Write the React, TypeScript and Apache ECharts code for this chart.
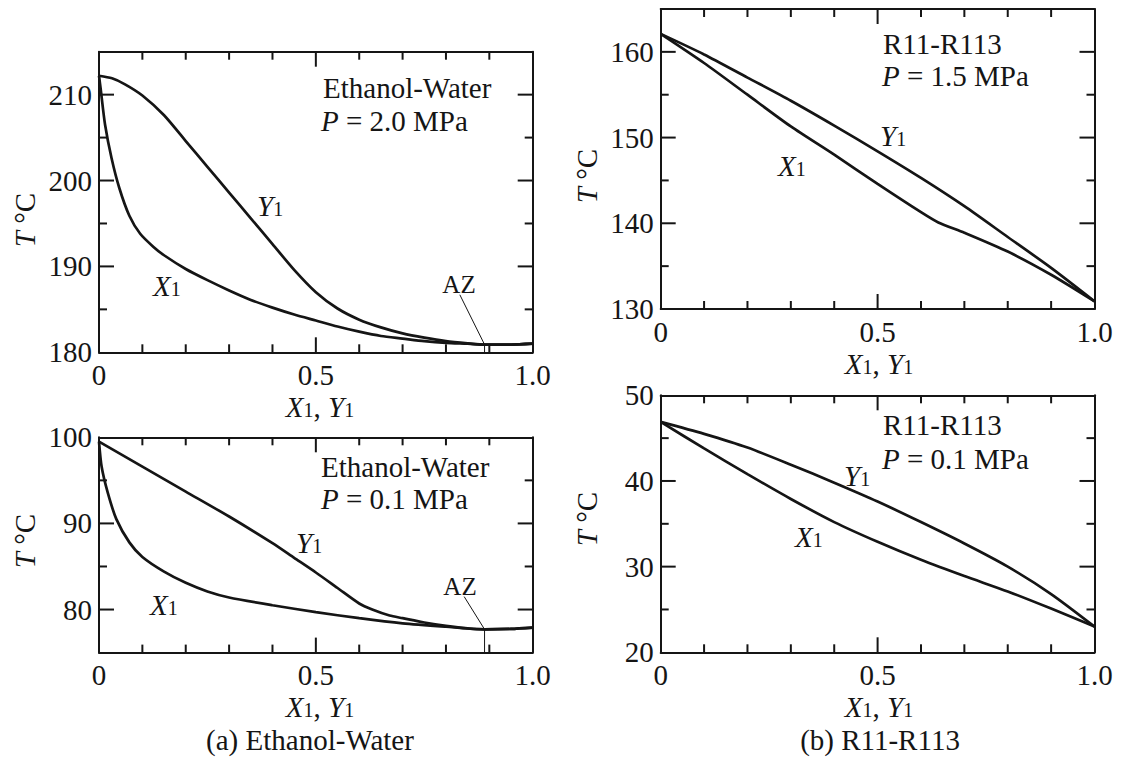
import React, { useEffect, useRef } from "react";
import * as echarts from "echarts";

const FONT = "Liberation Serif";
const INK = "#151515";

// composition axis ticks (shared)
const xMajorTicks = [0.5];
const xMinorTicks = [0.1, 0.2, 0.3, 0.4, 0.6, 0.7, 0.8, 0.9];

// (a) Ethanol-Water, P = 2.0 MPa
const ewHighRange = [180, 215];
const ewHighMajor = [190, 200, 210];
const ewHighMinor = [185, 195, 205];
const ewHighX1 = [
  [0, 212.2], [0.004, 210.6], [0.014, 206.5], [0.029, 202.6], [0.047, 199.1], [0.07, 195.9],
  [0.095, 193.8], [0.125, 192.3], [0.15, 191.3], [0.2, 189.7], [0.25, 188.4], [0.3, 187.2],
  [0.35, 186.1], [0.4, 185.2], [0.45, 184.4], [0.5, 183.7], [0.55, 183.0], [0.6, 182.4],
  [0.65, 181.9], [0.7, 181.6], [0.75, 181.3], [0.8, 181.1], [0.85, 181.0], [0.89, 180.9],
  [0.95, 180.9], [1, 181.0],
];
const ewHighY1 = [
  [0, 212.2], [0.03, 211.9], [0.06, 211.2], [0.1, 209.9], [0.15, 207.6], [0.2, 204.6],
  [0.25, 201.6], [0.3, 198.6], [0.35, 195.6], [0.4, 192.6], [0.45, 189.6], [0.5, 187.0],
  [0.55, 185.1], [0.6, 183.8], [0.65, 182.9], [0.7, 182.2], [0.75, 181.7], [0.8, 181.3],
  [0.85, 181.05], [0.89, 180.9], [0.95, 180.9], [1, 181.0],
];
const ewHighAZ = [[0.832, 186.7], [0.889, 180.9], [0.889, 180]];

// (a) Ethanol-Water, P = 0.1 MPa
const ewLowRange = [75, 100];
const ewLowMajor = [80, 90];
const ewLowMinor = [85, 95];
const ewLowX1 = [
  [0, 99.5], [0.006, 96.6], [0.02, 93.6], [0.04, 90.5], [0.07, 87.8], [0.1, 86.1],
  [0.15, 84.4], [0.2, 83.1], [0.25, 82.1], [0.3, 81.4], [0.4, 80.5], [0.5, 79.7],
  [0.6, 79.0], [0.7, 78.4], [0.8, 78.0], [0.89, 77.7], [0.95, 77.75], [1, 77.9],
];
const ewLowY1 = [
  [0, 99.5], [0.1, 96.6], [0.2, 93.7], [0.3, 90.8], [0.4, 87.7], [0.45, 86.0],
  [0.5, 84.3], [0.55, 82.5], [0.6, 80.7], [0.63, 80.0], [0.67, 79.3], [0.7, 79.0],
  [0.75, 78.5], [0.8, 78.1], [0.85, 77.8], [0.89, 77.7], [0.95, 77.75], [1, 77.9],
];
const ewLowAZ = [[0.842, 81.5], [0.889, 77.7], [0.889, 75]];

// (b) R11-R113, P = 1.5 MPa
const rHighRange = [130, 165];
const rHighMajor = [140, 150, 160];
const rHighMinor = [135, 145, 155];
const rHighX1 = [
  [0, 162.1], [0.1, 158.7], [0.2, 155.0], [0.3, 151.3], [0.4, 148.0], [0.5, 144.6],
  [0.6, 141.3], [0.64, 140.1], [0.7, 138.9], [0.8, 136.7], [0.9, 134.0], [1, 130.9],
];
const rHighY1 = [
  [0, 162.1], [0.1, 159.7], [0.2, 157.0], [0.3, 154.3], [0.4, 151.4], [0.5, 148.4],
  [0.6, 145.3], [0.7, 142.0], [0.8, 138.4], [0.9, 134.8], [1, 130.9],
];

// (b) R11-R113, P = 0.1 MPa
const rLowRange = [20, 50];
const rLowMajor = [30, 40];
const rLowMinor = [25, 35, 45];
const rLowX1 = [
  [0, 46.9], [0.1, 43.8], [0.2, 40.8], [0.3, 37.9], [0.4, 35.2], [0.5, 32.9],
  [0.6, 30.8], [0.7, 28.9], [0.8, 27.1], [0.9, 25.1], [1, 23.0],
];
const rLowY1 = [
  [0, 46.9], [0.1, 45.5], [0.2, 43.9], [0.3, 41.9], [0.4, 39.8], [0.5, 37.6],
  [0.6, 35.2], [0.7, 32.7], [0.8, 30.0], [0.9, 26.8], [1, 23.0],
];

const panels = [
  { grid: { left: 99, top: 51.7, width: 433.7, height: 300.6 }, range: ewHighRange, major: ewHighMajor, minor: ewHighMinor, x1: ewHighX1, y1: ewHighY1, az: ewHighAZ },
  { grid: { left: 99, top: 437.3, width: 433.7, height: 215.3 }, range: ewLowRange, major: ewLowMajor, minor: ewLowMinor, x1: ewLowX1, y1: ewLowY1, az: ewLowAZ },
  { grid: { left: 660.7, top: 9, width: 433.8, height: 300 }, range: rHighRange, major: rHighMajor, minor: rHighMinor, x1: rHighX1, y1: rHighY1, az: null },
  { grid: { left: 660.7, top: 395.3, width: 433.8, height: 257 }, range: rLowRange, major: rLowMajor, minor: rLowMinor, x1: rLowX1, y1: rLowY1, az: null },
];

const MAJOR_LEN = 15;
const MINOR_LEN = 8;

const rich = {
  n: { fontFamily: FONT, fontSize: 29, color: INK, lineHeight: 26 },
  i: { fontFamily: FONT, fontSize: 29, fontStyle: "italic", color: INK, lineHeight: 26 },
  a: { fontFamily: FONT, fontSize: 25, color: INK, lineHeight: 24 },
  s: { fontFamily: FONT, fontSize: 20, color: INK, lineHeight: 16, verticalAlign: "bottom" },
};

const X1 = "{i|X}{s|1}";
const Y1 = "{i|Y}{s|1}";
const AXIS_X = "{i|X}{s|1}{n|, }{i|Y}{s|1}";
const AXIS_T = "{i|T}{n| °C}";

type T = { x: number; y: number; t: string; align?: string; rot?: number };
const texts: T[] = [
  { x: 323, y: 88, t: "{n|Ethanol-Water}" },
  { x: 321, y: 121, t: "{i|P}{n| = 2.0 MPa}" },
  { x: 257, y: 206, t: Y1 },
  { x: 153, y: 286, t: X1 },
  { x: 459, y: 284, t: "{a|AZ}", align: "center" },
  { x: 321, y: 467, t: "{n|Ethanol-Water}" },
  { x: 321, y: 499, t: "{i|P}{n| = 0.1 MPa}" },
  { x: 296, y: 543, t: Y1 },
  { x: 150, y: 605, t: X1 },
  { x: 460, y: 586, t: "{a|AZ}", align: "center" },
  { x: 883, y: 44, t: "{n|R11-R113}" },
  { x: 882, y: 76, t: "{i|P}{n| = 1.5 MPa}" },
  { x: 880, y: 136, t: Y1 },
  { x: 778, y: 166, t: X1 },
  { x: 883, y: 425, t: "{n|R11-R113}" },
  { x: 882, y: 459, t: "{i|P}{n| = 0.1 MPa}" },
  { x: 844, y: 476, t: Y1 },
  { x: 795, y: 537, t: X1 },
  { x: 320, y: 407, t: AXIS_X, align: "center" },
  { x: 320, y: 707, t: AXIS_X, align: "center" },
  { x: 879, y: 364, t: AXIS_X, align: "center" },
  { x: 879, y: 707, t: AXIS_X, align: "center" },
  { x: 25, y: 220, t: AXIS_T, align: "center", rot: Math.PI / 2 },
  { x: 25, y: 541, t: AXIS_T, align: "center", rot: Math.PI / 2 },
  { x: 587, y: 176, t: AXIS_T, align: "center", rot: Math.PI / 2 },
  { x: 587, y: 519, t: AXIS_T, align: "center", rot: Math.PI / 2 },
  { x: 310, y: 740, t: "{n|(a) Ethanol-Water}", align: "center" },
  { x: 880, y: 740, t: "{n|(b) R11-R113}", align: "center" },
];

const lineStyle = { color: INK, width: 2 };
const labelStyle = { fontFamily: FONT, fontSize: 29, color: INK };

// inward ticks on all four sides, drawn by a custom series through each grid's scales
function tickRender(params: any, api: any) {
  const cs = params.coordSys;
  const x = api.value(0);
  const y = api.value(1);
  const orient = api.value(2);
  const len = api.value(3);
  const pt = api.coord([x, y]);
  const style = { stroke: INK, lineWidth: 2, fill: null };
  if (orient === 0) {
    const px = pt[0];
    const bottom = cs.y + cs.height;
    return {
      type: "group",
      children: [
        { type: "line", shape: { x1: px, y1: bottom, x2: px, y2: bottom - len }, style },
        { type: "line", shape: { x1: px, y1: cs.y, x2: px, y2: cs.y + len }, style },
      ],
    };
  }
  const py = pt[1];
  const right = cs.x + cs.width;
  return {
    type: "group",
    children: [
      { type: "line", shape: { x1: cs.x, y1: py, x2: cs.x + len, y2: py }, style },
      { type: "line", shape: { x1: right, y1: py, x2: right - len, y2: py }, style },
    ],
  };
}

function buildOption() {
  const grid: any[] = [];
  const xAxis: any[] = [];
  const yAxis: any[] = [];
  const series: any[] = [];
  panels.forEach((p, i) => {
    grid.push({ ...p.grid, containLabel: false, show: false });
    const xBase = { gridIndex: i, type: "value", min: 0, max: 1, interval: 0.5, splitLine: { show: false }, axisTick: { show: false } };
    xAxis.push({
      ...xBase, position: "bottom",
      axisLine: { show: true, onZero: false, lineStyle },
      axisLabel: { show: true, margin: 8, ...labelStyle, showMinLabel: true, showMaxLabel: true,
        formatter: (v: number) => (v === 0 ? "0" : v.toFixed(1)) },
    });
    xAxis.push({
      ...xBase, position: "top",
      axisLine: { show: true, onZero: false, lineStyle },
      axisLabel: { show: false },
    });
    const [lo, hi] = p.range;
    const majorStep = lo % 10 === 0 ? { interval: 10 } : { splitNumber: 3 };
    const yBase = { gridIndex: i, type: "value", min: lo, max: hi, splitLine: { show: false }, axisTick: { show: false }, ...majorStep };
    yAxis.push({
      ...yBase, position: "left",
      axisLine: { show: true, onZero: false, lineStyle },
      axisLabel: { show: true, margin: 7, ...labelStyle, showMinLabel: true, showMaxLabel: true,
        formatter: (v: number) => (Math.abs(v % 10) < 1e-6 ? String(v) : "") },
    });
    yAxis.push({
      ...yBase, position: "right",
      axisLine: { show: true, onZero: false, lineStyle },
      axisLabel: { show: false },
    });

    const ticks: number[][] = [];
    const mid = (lo + hi) / 2;
    xMajorTicks.forEach((v) => ticks.push([v, mid, 0, MAJOR_LEN]));
    xMinorTicks.forEach((v) => ticks.push([v, mid, 0, MINOR_LEN]));
    p.major.forEach((v) => ticks.push([0.5, v, 1, MAJOR_LEN]));
    p.minor.forEach((v) => ticks.push([0.5, v, 1, MINOR_LEN]));
    series.push({
      type: "custom", name: "ticks" + i, coordinateSystem: "cartesian2d",
      xAxisIndex: i * 2, yAxisIndex: i * 2,
      dimensions: ["x", "y", "orient", "len"],
      encode: { x: 0, y: 1 },
      data: ticks, renderItem: tickRender, clip: false, silent: true, z: 5,
    });

    const common = {
      type: "line", xAxisIndex: i * 2, yAxisIndex: i * 2, symbol: "none", showSymbol: false,
      silent: true, smooth: 0.25, z: 3,
    };
    series.push({ ...common, name: "X1", data: p.x1, lineStyle: { color: INK, width: 2.7 } });
    series.push({ ...common, name: "Y1", data: p.y1, lineStyle: { color: INK, width: 2.7 } });
    if (p.az) {
      series.push({
        type: "line", xAxisIndex: i * 2, yAxisIndex: i * 2, symbol: "none", silent: true,
        data: p.az, lineStyle: { color: INK, width: 1 }, z: 2,
      });
    }
  });
  const graphic = texts.map((t) => ({
    type: "text",
    x: t.x,
    y: t.y,
    rotation: t.rot || 0,
    silent: true,
    z: 10,
    style: {
      text: t.t,
      rich,
      align: t.align || "left",
      verticalAlign: "middle",
      fill: INK,
      fontFamily: FONT,
      fontSize: 29,
    },
  }));
  return {
    animation: false,
    backgroundColor: "#ffffff",
    grid,
    xAxis,
    yAxis,
    series,
    graphic,
  };
}

export default function App() {
  const ref = useRef<HTMLDivElement>(null);
  useEffect(() => {
    if (!ref.current) return;
    const chart = echarts.init(ref.current, undefined, { renderer: "svg" });
    chart.setOption(buildOption() as any);
    return () => chart.dispose();
  }, []);
  return (
    <div
      ref={ref}
      style={{ position: "fixed", left: 0, top: 0, width: 1122, height: 762, background: "#fff" }}
    />
  );
}
